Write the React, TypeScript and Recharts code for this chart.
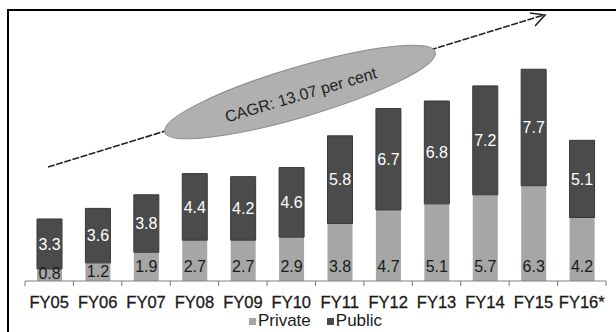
import { BarChart, Bar, XAxis, YAxis, Legend, LabelList } from "recharts";

const CATEGORIES = ["FY05", "FY06", "FY07", "FY08", "FY09", "FY10", "FY11", "FY12", "FY13", "FY14", "FY15", "FY16*"];
const PRIVATE = [0.8, 1.2, 1.9, 2.7, 2.7, 2.9, 3.8, 4.7, 5.1, 5.7, 6.3, 4.2];
const PUBLIC = [3.3, 3.6, 3.8, 4.4, 4.2, 4.6, 5.8, 6.7, 6.8, 7.2, 7.7, 5.1];
const Y_DOMAIN: [number, number] = [0, 16];
const CAGR_TEXT = "CAGR: 13.07 per cent";

const W = 616;
const H = 332;
const MARGIN = { top: 39, right: 10, left: 25, bottom: 0 };
const STEP = (W - MARGIN.left - MARGIN.right) / CATEGORIES.length;
const FONT = "'Liberation Sans', Arial, sans-serif";

const PRIVATE_COLOR = "#a6a6a6";
const PUBLIC_COLOR = "#4b4b4b";

const data = CATEGORIES.map((name, i) => ({
  name,
  private: PRIVATE[i],
  public: PUBLIC[i],
}));

// category label centred, with tick marks on the band edges
function FyTick(props: any) {
  const { x, y, payload, index } = props;
  const last = index === CATEGORIES.length - 1;
  return (
    <g>
      <line x1={x - STEP / 2} x2={x - STEP / 2} y1={y} y2={y + 5} stroke="#777" />
      {last && <line x1={x + STEP / 2} x2={x + STEP / 2} y1={y} y2={y + 5} stroke="#777" />}
      <text x={x} y={y + 27} textAnchor="middle" fontSize={16.5} fill="#1a1a1a" fontFamily={FONT}
        stroke="#1a1a1a" strokeWidth={0.3}>
        {payload.value}
      </text>
    </g>
  );
}

// private values sit near the foot of the bar
function PrivateLabel(props: any) {
  const { x, y, width, height, value } = props;
  const bottom = y + height;
  const cy = Math.min(Math.max(y + height / 2, bottom - 15), bottom - 8);
  return (
    <text x={x + width / 2} y={cy} textAnchor="middle" dominantBaseline="central"
      fontSize={16} fill="#1a1a1a" fontFamily={FONT}>
      {value}
    </text>
  );
}

function LegendRow() {
  const item = (color: string, label: string) => (
    <span style={{ display: "inline-flex", alignItems: "center", margin: "0 8px" }}>
      <span style={{ width: 7, height: 7, background: color, marginRight: 2, display: "inline-block" }} />
      {label}
    </span>
  );
  return (
    <div style={{ height: 22, display: "flex", justifyContent: "center", alignItems: "center",
      fontSize: 17, lineHeight: "18px", color: "#1a1a1a", fontFamily: FONT }}>
      {item(PRIVATE_COLOR, "Private")}
      {item(PUBLIC_COLOR, "Public")}
    </div>
  );
}

export default function App() {
  return (
    <div style={{ position: "absolute", left: 0, top: 0, width: W, height: H, overflow: "hidden", background: "#fff" }}>
      <div style={{ position: "absolute", left: 7, top: 9, width: 700, height: 400, border: "2px solid #000" }} />
      <BarChart width={W} height={H} data={data} margin={MARGIN} barSize={25}>
        <XAxis dataKey="name" interval={0} tickLine={false} tickSize={0} tickMargin={0}
          axisLine={{ stroke: "#808080" }} tick={<FyTick />} height={29} />
        <YAxis hide domain={Y_DOMAIN} />
        <Legend verticalAlign="bottom" content={() => <LegendRow />} />
        <Bar dataKey="private" stackId="a" fill={PRIVATE_COLOR} isAnimationActive={false}>
          <LabelList dataKey="private" content={<PrivateLabel />} />
        </Bar>
        <Bar dataKey="public" stackId="a" fill={PUBLIC_COLOR} stroke="#383838" strokeWidth={1} isAnimationActive={false}>
          <LabelList dataKey="public" position="center" fill="#fff" fontSize={16} fontFamily={FONT} />
        </Bar>
      </BarChart>
      {/* growth arrow with the CAGR callout */}
      <svg width={W} height={H} style={{ position: "absolute", left: 0, top: 0, pointerEvents: "none" }}>
        <line x1={48} y1={167} x2={544} y2={15} stroke="#222" strokeWidth={1.6} strokeDasharray="7 1.5" />
        <polyline points="530,13 545,15 535,26" fill="none" stroke="#222" strokeWidth={1.6} />
        <g transform="translate(300 92) rotate(-16.5)">
          <ellipse cx={0} cy={0} rx={141} ry={25} fill="#b0b0b0" stroke="#8a8a8a" strokeWidth={1} />
          <text x={0} y={3} textAnchor="middle" dominantBaseline="central" fontSize={16}
            fill="#222" fontFamily={FONT}>
            {CAGR_TEXT}
          </text>
        </g>
      </svg>
    </div>
  );
}
